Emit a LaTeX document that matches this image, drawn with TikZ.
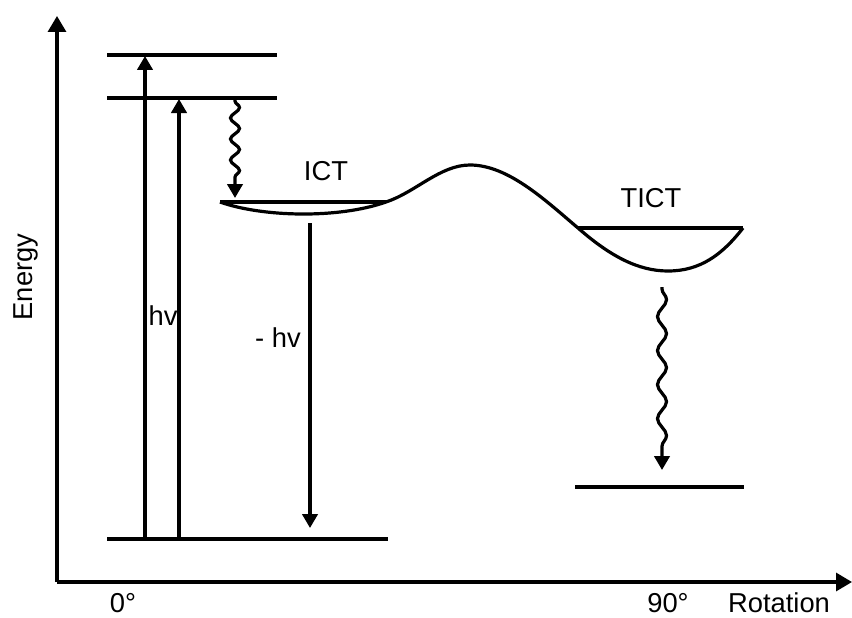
\documentclass[tikz,border=0pt]{standalone}
\usepackage{fontspec}
\setmainfont{Liberation Sans}
\usetikzlibrary{arrows.meta,decorations.pathmorphing}
\begin{document}
\begin{tikzpicture}[x=0.75pt,y=-0.75pt,
  line width=2.4pt, line cap=butt,
  axisarrow/.style={-{Triangle[width=13.5pt,length=12pt]}},
  smallarrow/.style={-{Triangle[width=11.5pt,length=10.5pt]}},
  wavy/.style={smallarrow,decorate,decoration={snake,amplitude=3.4pt,segment length=#1,pre length=1.5pt,post length=10.5pt}},
  lbl/.style={font=\fontsize{20.5}{24}\selectfont, inner sep=0pt}]
\useasboundingbox (0,0) rectangle (852,617);
% axes
\coordinate (O) at (57,582);
\coordinate (Ytop) at (57,16);
\coordinate (Xend) at (852,582);
\draw[axisarrow] (O) -- (Ytop);
\draw[axisarrow] (O) -- (Xend);
% levels
\coordinate (L1a) at (107,55);  \coordinate (L1b) at (277,55);
\coordinate (L2a) at (107,98);  \coordinate (L2b) at (277,98);
\coordinate (G0a) at (107,539); \coordinate (G0b) at (388,539);
\coordinate (G9a) at (575,487); \coordinate (G9b) at (744,487);
\draw (L1a) -- (L1b);
\draw (L2a) -- (L2b);
\draw (G0a) -- (G0b);
\draw (G9a) -- (G9b);
% excitation arrows
\coordinate (A1s) at (145,539); \coordinate (A1e) at (145,56);
\coordinate (A2s) at (179,539); \coordinate (A2e) at (179,99);
\draw[smallarrow] (A1s) -- (A1e);
\draw[smallarrow] (A2s) -- (A2e);
% wavy relaxation
\coordinate (W1s) at (235,99); \coordinate (W1e) at (235,198);
\draw[wavy=15.75pt] (W1s) -- (W1e);
\coordinate (W2s) at (662,287); \coordinate (W2e) at (662,470);
\draw[wavy=25.5pt] (W2s) -- (W2e);
% emission
\coordinate (Es) at (310,223); \coordinate (Ee) at (310,528);
\draw[smallarrow] (Es) -- (Ee);
% potential curve
\coordinate (ICTa) at (220,202); \coordinate (ICTb) at (386,202);
\coordinate (TICTa) at (578,228); \coordinate (TICTb) at (743,228);
\draw[line join=round] (ICTa) -- (ICTb);
\draw[line join=round] (TICTa) -- (TICTb);
\draw[line join=round] (ICTa) .. controls (262,217) and (338,219) .. (ICTb)
  .. controls (416,192) and (440,165) .. (470,165)
  .. controls (508,165) and (545,200) .. (TICTa)
  .. controls (610,256) and (638,271) .. (668,271)
  .. controls (700,271) and (722,255) .. (TICTb);
% labels
\node[lbl,anchor=base] (ict) at (326,180) {ICT};
\node[lbl,anchor=base] (tict) at (651,207) {TICT};
\node[lbl,anchor=base] (hv) at (163,325) {hv};
\node[lbl,anchor=base] (mhv) at (278,347) {- hv};
\node[lbl,anchor=base,rotate=90] (energy) at (32,277) {Energy};
\node[lbl,anchor=base] (zero) at (123,612) {0°};
\node[lbl,anchor=base] (ninety) at (668,612) {90°};
\node[lbl,anchor=base] (rot) at (779,612) {Rotation};
\end{tikzpicture}
\end{document}
